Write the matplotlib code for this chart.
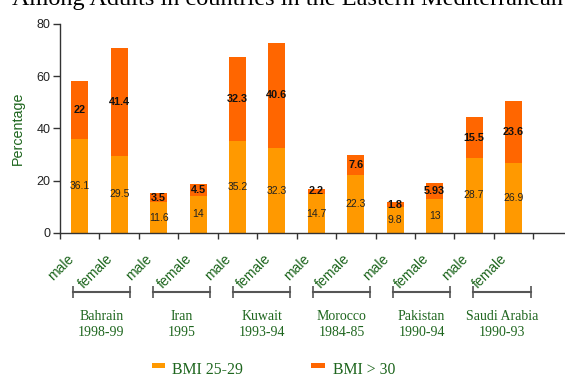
import matplotlib
matplotlib.use('Agg')
import matplotlib.pyplot as plt
import matplotlib.transforms as mtransforms
from matplotlib.patches import Rectangle

plt.rcParams['font.family'] = ['Liberation Sans', 'DejaVu Sans']

# data
countries = ['Bahrain', 'Iran', 'Kuwait', 'Morocco', 'Pakistan', 'Saudi Arabia']
years = ['1998-99', '1995', '1993-94', '1984-85', '1990-94', '1990-93']
sexes = ['male', 'female']
bmi_25_29 = [36.1, 29.5, 11.6, 14, 35.2, 32.3, 14.7, 22.3, 9.8, 13, 28.7, 26.9]
bmi_30 = [22, 41.4, 3.5, 4.5, 32.3, 40.6, 2.2, 7.6, 1.8, 5.93, 15.5, 23.6]

c_low = '#FF9900'
c_high = '#FF6600'
green = '#1E661E'
axis_col = '#333333'

fig = plt.figure(figsize=(5.65, 3.74), dpi=100)
ax = fig.add_axes([60 / 565, 1 - 232.7 / 374, 505 / 565, 208.7 / 374])

x = list(range(len(bmi_25_29)))
w = 0.43
ax.bar(x, bmi_25_29, width=w, color=c_low, linewidth=0)
ax.bar(x, bmi_30, width=w, bottom=bmi_25_29, color=c_high, linewidth=0)

# value labels in the middle of each segment
for i in x:
    lo, hi = bmi_25_29[i], bmi_30[i]
    ax.text(i, lo / 2, f'{lo:g}', ha='center', va='center', fontsize=7.5, color='#222222')
    ax.text(i, lo + hi / 2, f'{hi:g}', ha='center', va='center', fontsize=7.8,
            fontweight='bold', color='#111111')

ax.set_xlim(-0.5, -0.5 + 505 / 39.44)
ax.set_ylim(0, 80)
ax.set_yticks([0, 20, 40, 60, 80])
ax.set_xticks([k - 0.5 for k in range(len(x) + 1)])
ax.set_xticklabels([])
ax.tick_params(axis='y', direction='out', length=5, width=1, color=axis_col,
               labelsize=9, labelcolor='#222222', pad=2)
ax.tick_params(axis='x', direction='out', length=4, width=1, color=axis_col)
for s in ['top', 'right']:
    ax.spines[s].set_visible(False)
for s in ['left', 'bottom']:
    ax.spines[s].set_color(axis_col)
    ax.spines[s].set_linewidth(1)

ax.set_ylabel('Percentage', fontsize=10.3, color=green)
ax.yaxis.set_label_coords(-35 / 505, 0.5)

# sex labels under each bar
trans = mtransforms.blended_transform_factory(ax.transData, ax.transAxes)
for i in x:
    ax.text(i - 0.09, -0.09, sexes[i % 2], rotation=45, ha='right', va='top',
            fontsize=10, color=green, transform=trans)

# country brackets and names
for g, (name, yr) in enumerate(zip(countries, years)):
    cx = 2.03 * g + 0.55
    ax.plot([cx - 0.73, cx + 0.73], [-0.2865, -0.2865], color='#555555', lw=1.5,
            marker='|', markersize=8, markeredgewidth=1.2, transform=trans, clip_on=False)
    ax.text(cx, -0.44, f'{name}\n{yr}', ha='center', va='center', fontsize=10,
            family='Liberation Serif', color=green, transform=trans, linespacing=1.25)

# legend
fig.add_artist(Rectangle((152.3 / 565, 1 - 368.3 / 374), 13 / 565, 5.6 / 374,
                         color=c_low, transform=fig.transFigure, lw=0))
fig.text(171.7 / 565, 0, 'BMI 25-29', fontsize=11.3, family='Liberation Serif',
         color=green, va='baseline')
fig.add_artist(Rectangle((311 / 565, 1 - 368.3 / 374), 14 / 565, 5.6 / 374,
                         color=c_high, transform=fig.transFigure, lw=0))
fig.text(333.3 / 565, 0, 'BMI > 30', fontsize=11.3, family='Liberation Serif',
         color=green, va='baseline')

fig.text(12 / 565, 1 - 5 / 374, 'Among Adults in countries in the Eastern Mediterranean',
         fontsize=17.5, family='Liberation Serif', color='black', va='baseline')

fig.savefig('out.png', dpi=100)
